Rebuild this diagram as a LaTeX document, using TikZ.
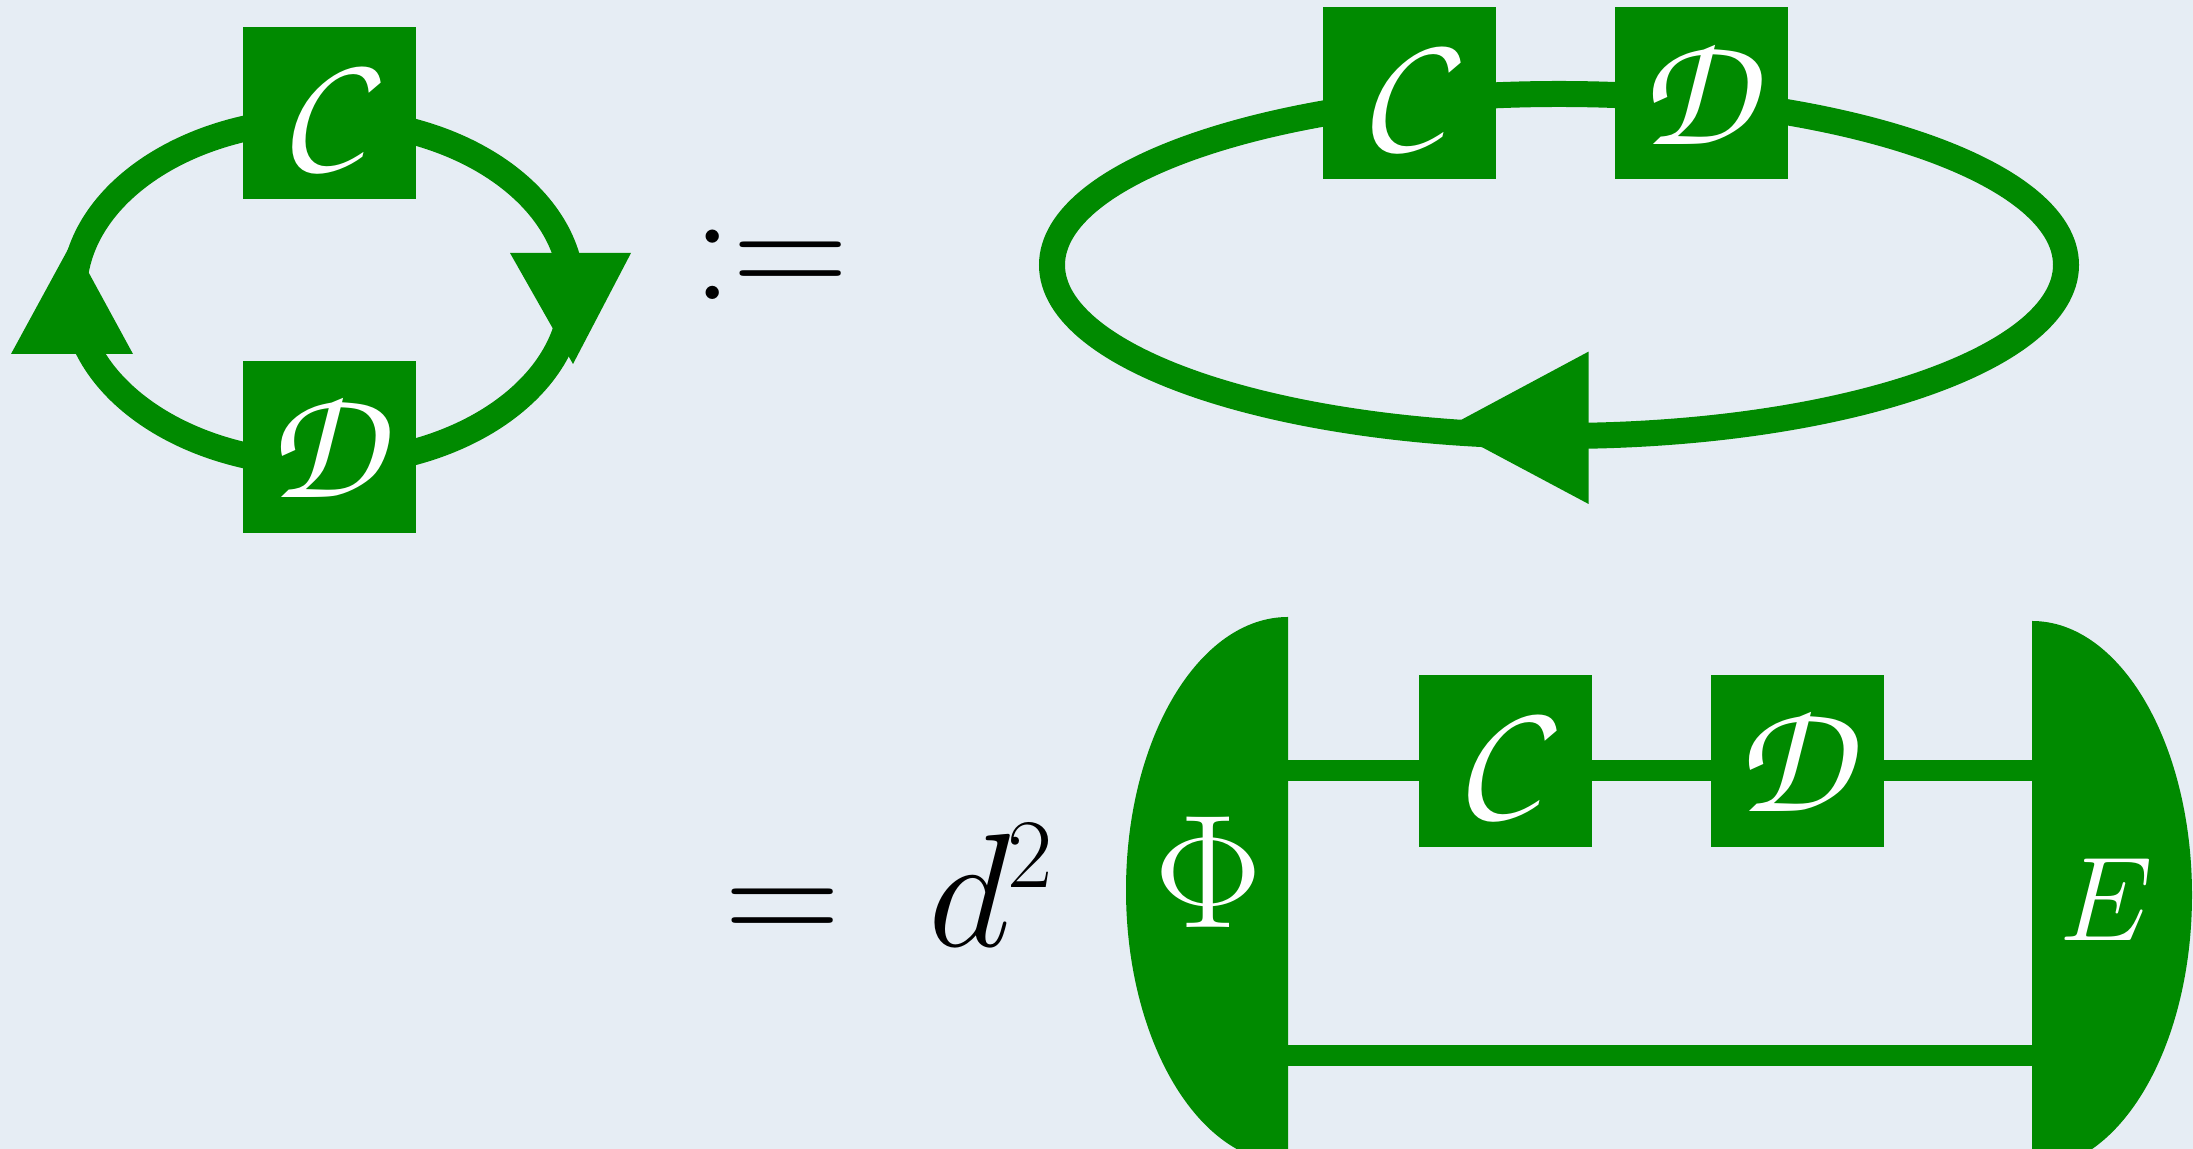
\RequirePackage{fix-cm}
\documentclass[tikz,border=0pt]{standalone}
\usepackage{tikz}
\usetikzlibrary{positioning}
\DeclareMathAlphabet{\mathpzc}{OT1}{pzc}{m}{it}
\definecolor{tgreen}{HTML}{008A00}
\definecolor{paper}{HTML}{E6EDF4}
\tikzset{
  tens/.style={fill=tgreen,text=white,minimum width=1.73cm,minimum height=1.72cm,inner sep=0pt,
    font=\fontsize{46}{50}\selectfont},
  ring/.style={draw=tgreen,line width=0.26cm},
  wire/.style={draw=tgreen,line width=0.21cm},
  blob/.style={fill=tgreen},
  head/.style={fill=tgreen},
  sym/.style={font=\fontsize{46}{50}\selectfont,inner sep=0pt},
}

\begin{document}
\begin{tikzpicture}[x=1cm,y=1cm]
  \fill[paper] (0,0) rectangle (21.93,11.49);
  \useasboundingbox (0,0) rectangle (21.93,11.49);
  % left loop
  \coordinate (ring1) at (3.23,8.57);
  \draw[ring] (ring1) ellipse [x radius=2.49, y radius=1.72];
  \node[tens] (c1) at (3.295,10.36) {$\mathpzc{C}$};
  \node[tens] (d1) at (3.295,7.02) {$\mathpzc{D}$};
  \fill[head] (5.10,8.96) -- (6.31,8.96) -- (5.73,7.85) -- cycle;
  \fill[head] (0.11,7.95) -- (1.33,7.95) -- (0.72,9.07) -- cycle;
  \node[sym,anchor=base] (def) at (7.71,8.49) {$:=$};
  % right loop
  \coordinate (ring2) at (15.59,8.84);
  \draw[ring] (ring2) ellipse [x radius=5.07, y radius=1.71];
  \node[tens] (c2) at (14.095,10.555) {$\mathpzc{C}$};
  \node[tens,right=1.18cm of c2] (d2) {$\mathpzc{D}$};
  \fill[head] (15.886,7.974) -- (15.886,6.45) -- (14.46,7.21) -- cycle;
  % d^2 network
  \node[sym,anchor=base] (eq) at (7.83,2.02) {$=$};
  \node[sym,anchor=base] (dd) at (9.70,2.02) {$d$};
  \node[sym,anchor=base,font=\fontsize{28}{30}\selectfont] (sq) at (10.30,2.61) {$2$};
  \coordinate (phi1) at (12.88,3.78);
  \coordinate (phi2) at (12.88,0.93);
  \coordinate (env1) at (20.32,3.78);
  \coordinate (env2) at (20.32,0.93);
  \draw[wire] (phi1) -- (env1);
  \draw[wire] (phi2) -- (env2);
  \fill[blob] (12.88,5.32) arc[start angle=90, end angle=270, x radius=1.62, y radius=2.73] -- cycle;
  \fill[blob] (20.32,5.28) arc[start angle=90, end angle=-90, x radius=1.60, y radius=2.74] -- cycle;
  \node[sym,text=white] (phi) at (12.08,2.77) {$\Phi$};
  \node[sym,text=white,font=\fontsize{34}{40}\selectfont] (env) at (21.06,2.49) {$E$};
  \node[tens] (c3) at (15.055,3.88) {$\mathpzc{C}$};
  \node[tens,right=1.18cm of c3] (d3) {$\mathpzc{D}$};
\end{tikzpicture}
\end{document}
